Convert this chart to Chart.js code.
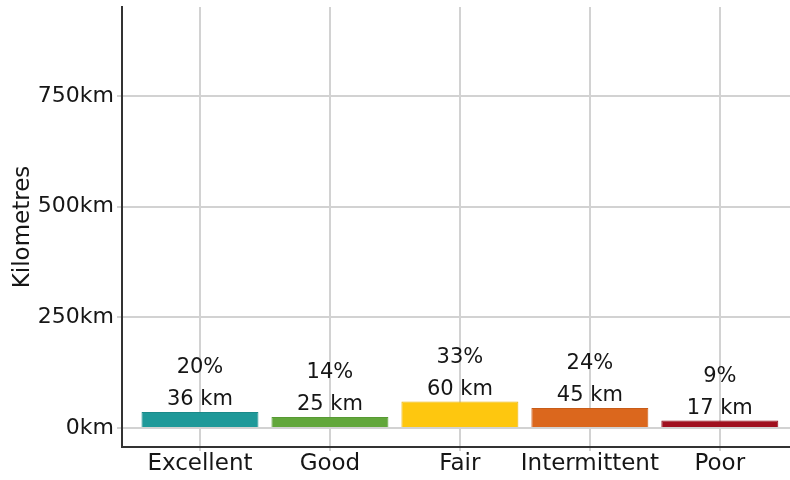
<!DOCTYPE html>
<html>
<head>
<meta charset="utf-8">
<script src="https://cdn.jsdelivr.net/npm/chart.js@4.4.0/dist/chart.umd.min.js"></script>
<style>
html,body{margin:0;padding:0;background:#fff;overflow:hidden;}
#wrap{width:790px;height:480px;position:relative;}
</style>
</head>
<body>
<div id="wrap"><canvas id="c" width="790" height="480"></canvas></div>
<script>
const categories = ["Excellent", "Good", "Fair", "Intermittent", "Poor"];
const kilometres = [36, 25, 60, 45, 17];
const percentages = ["20%", "14%", "33%", "24%", "9%"];
const barColors = ["#1f9999", "#62a73b", "#fec70f", "#db671d", "#a0101f"];
const borderColors = ["#1a8a8a", "#579a33", "#e9b40a", "#c85c18", "#8e0c1a"];
const yTicks = [0, 250, 500, 750];

const FONT = "'DejaVu Sans', Verdana, sans-serif";

const labelPlugin = {
  id: 'barLabels',
  afterDatasetsDraw(chart) {
    const ctx = chart.ctx;
    const meta = chart.getDatasetMeta(0);
    ctx.save();
    ctx.font = "21px " + FONT;
    ctx.fillStyle = "#161616";
    ctx.textAlign = "center";
    ctx.textBaseline = "middle";
    meta.data.forEach((bar, i) => {
      ctx.fillText(kilometres[i] + " km", bar.x, bar.y - 12);
      ctx.fillText(percentages[i], bar.x, bar.y - 44);
    });
    ctx.restore();
  }
};

new Chart(document.getElementById('c'), {
  type: 'bar',
  data: {
    datasets: [{
      data: kilometres.map((v, i) => ({x: i, y: v})),
      backgroundColor: barColors,
      borderColor: borderColors,
      borderWidth: 1,
      categoryPercentage: 1.0,
      barPercentage: 0.9
    }]
  },
  options: {
    responsive: false,
    animation: false,
    devicePixelRatio: 1,
    layout: {padding: {top: 7, left: 0, right: 0, bottom: 0}},
    plugins: {legend: {display: false}, tooltip: {enabled: false}},
    scales: {
      x: {
        type: 'linear',
        min: -0.6,
        max: 4.54,
        offset: false,
        afterBuildTicks(scale) { scale.ticks = categories.map((c, i) => ({value: i})); },
        afterFit(scale) { scale.height = 33; scale.paddingLeft = 0; scale.paddingRight = 0; },
        ticks: {
          callback: (v) => categories[v] !== undefined ? categories[v] : '',
          font: {family: FONT, size: 23},
          color: "#161616",
          padding: -1,
          maxRotation: 0,
          autoSkip: false
        },
        grid: {color: "#d2d2d2", lineWidth: 2, tickLength: 4, drawTicks: true, offset: false},
        border: {display: true, color: "#333", width: 2}
      },
      y: {
        min: -43,
        max: 951,
        afterBuildTicks(scale) { scale.ticks = yTicks.map(v => ({value: v})); },
        afterFit(scale) { scale.width = 122; scale.paddingTop = 0; scale.paddingBottom = 0; },
        ticks: {
          callback: (v) => v + "km",
          font: {family: FONT, size: 22},
          color: "#161616",
          padding: 3
        },
        title: {
          display: true,
          text: "Kilometres",
          font: {family: FONT, size: 23},
          color: "#161616",
          padding: {top: 9, bottom: 0}
        },
        grid: {color: "#d2d2d2", lineWidth: 2, tickLength: 5},
        border: {display: true, color: "#333", width: 2}
      }
    }
  },
  plugins: [labelPlugin]
});
</script>
</body>
</html>
